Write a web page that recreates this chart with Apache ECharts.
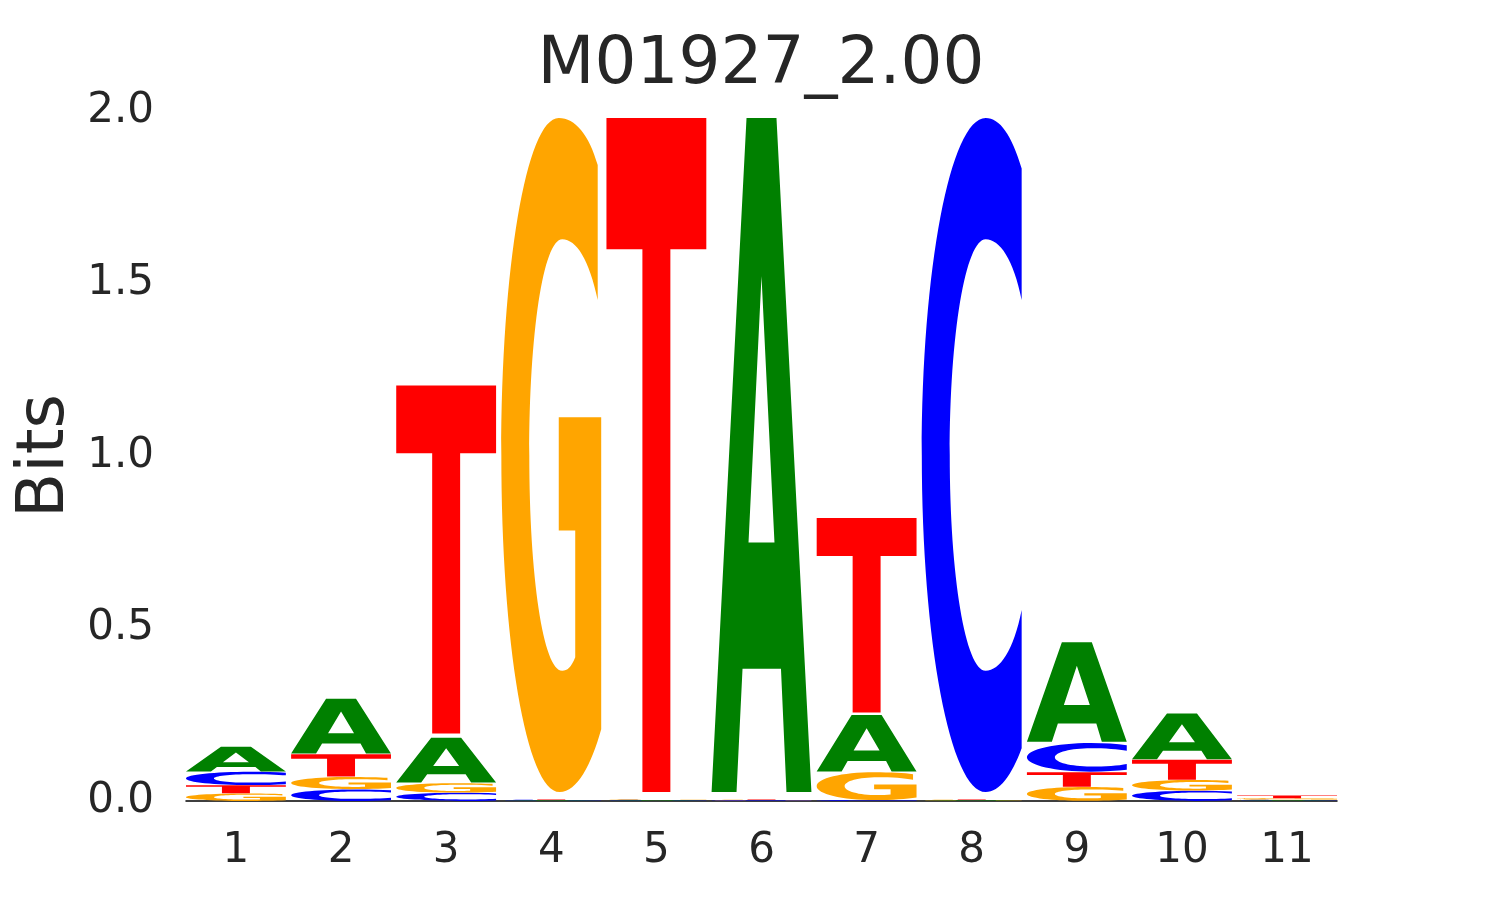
<!DOCTYPE html>
<html>
<head>
<meta charset="utf-8">
<script src="https://cdn.jsdelivr.net/npm/echarts@6/dist/echarts.min.js"></script>
<style>
html,body{margin:0;padding:0;background:#ffffff;}
#chart{width:1485px;height:900px;}
</style>
</head>
<body>
<div id="chart"></div>
<script>
// ---------- data ----------
const chartTitle = 'M01927_2.00';
const yAxisName = 'Bits';
const positions = [1, 2, 3, 4, 5, 6, 7, 8, 9, 10, 11];
const letters = ['A', 'C', 'G', 'T'];
const valuesA = [0.073, 0.162, 0.133, 0.002, 0.002, 1.994, 0.167, 0.002, 0.294, 0.135, 0.002];
const valuesC = [0.039, 0.034, 0.024, 0.002, 0.002, 0.002, 0.002, 1.994, 0.085, 0.030, 0.002];
const valuesG = [0.022, 0.036, 0.028, 1.994, 0.002, 0.002, 0.082, 0.002, 0.041, 0.031, 0.004];
const valuesT = [0.024, 0.066, 1.030, 0.002, 1.994, 0.002, 0.575, 0.002, 0.043, 0.059, 0.008];
const yTicks = [0, 0.5, 1.0, 1.5, 2.0];

// ---------- styles ----------
const letterColors = { A: '#008000', C: '#0000ff', G: '#ffa500', T: '#ff0000' };
const FONT = 'DejaVu Sans';
const TEXT_COLOR = '#262626';
const LETTER_WIDTH = 0.95;
const VPAD = 0.02;

// glyph outlines in a 100x100 box (stretched to each letter's cell)
const glyphPaths = {
  A: 'M0,100 L35,0 L65,0 L100,100 L75,100 L69.5,81.7 L31,81.7 L25,100 Z M37,63 L63,63 L50,23.5 Z',
  T: 'M0,0 L100,0 L100,19.5 L64,19.5 L64,100 L36,100 L36,19.5 L0,19.5 Z',
  C: 'M100,7.5 C90,2.5 78,0 64,0 C28.7,0 0,22.4 0,50 C0,77.6 28.7,100 64,100 C78,100 90,97.5 100,93.5 ' +
     'L100,73 C92,79 78,82 64,82 C44,82 28,68 28,50 C28,32 44,18 64,18 C78,18 92,21 100,27 Z',
  G: 'M96.5,7 C88,2.5 74,0 57.5,0 C25,0 0,22.4 0,50 C0,77.6 25,100 58.5,100 C76,100 90,96 100,90.7 ' +
     'L100,44.4 L57.5,44.4 L57.5,61.2 L74,61.2 L74,80 C70,81.5 66,82 61,82 C42,82 28,68 28,50 ' +
     'C28,32 42,18 61,18 C75,18 88,21 96.5,27 Z'
};

// ---------- build stacked letter cells ----------
const valueTable = { A: valuesA, C: valuesC, G: valuesG, T: valuesT };
const cells = [];
positions.forEach(function (pos, i) {
  const col = letters.map(function (L, li) { return { li: li, v: valueTable[L][i] }; });
  col.sort(function (a, b) { return a.v - b.v || a.li - b.li; });
  let acc = 0;
  col.forEach(function (c) {
    cells.push([pos, acc, acc + c.v, c.li]);
    acc += c.v;
  });
});

const chart = echarts.init(document.getElementById('chart'), null, { renderer: 'canvas' });

chart.setOption({
  backgroundColor: '#ffffff',
  animation: false,
  title: {
    text: chartTitle,
    left: 761,
    textAlign: 'center',
    top: 33,
    padding: 0,
    textStyle: { fontFamily: FONT, fontSize: 66, fontWeight: 'normal', color: TEXT_COLOR }
  },
  grid: { left: 186, right: 148, top: 111, bottom: 99, containLabel: false, outerBoundsMode: 'none' },
  xAxis: {
    type: 'value',
    min: 0.5 + (1 - LETTER_WIDTH) / 2,
    max: 11.5 - (1 - LETTER_WIDTH) / 2,
    axisLine: { show: true, onZero: false, lineStyle: { color: '#000000', width: 1.5 } },
    axisTick: { show: false },
    splitLine: { show: false },
    axisLabel: {
      customValues: positions,
      fontFamily: FONT, fontSize: 42, color: TEXT_COLOR, margin: 29
    }
  },
  yAxis: {
    type: 'value',
    min: 0,
    max: 2,
    interval: 0.5,
    name: yAxisName,
    nameLocation: 'middle',
    nameRotate: 90,
    nameGap: 107,
    nameMoveOverlap: false,
    nameTextStyle: { fontFamily: FONT, fontSize: 66, color: TEXT_COLOR },
    axisLine: { show: false },
    axisTick: { show: false },
    splitLine: { show: false },
    axisLabel: {
      customValues: yTicks,
      formatter: function (v) { return Number(v).toFixed(1); },
      fontFamily: FONT, fontSize: 42, color: TEXT_COLOR, margin: 32
    }
  },
  series: [{
    type: 'custom',
    data: cells,
    encode: { x: 0, y: [1, 2] },
    renderItem: function (params, api) {
      const x = api.value(0), y0 = api.value(1), y1 = api.value(2), li = api.value(3);
      const L = letters[li];
      const pTop = api.coord([x - LETTER_WIDTH / 2, y1]);
      const pBot = api.coord([x + LETTER_WIDTH / 2, y0]);
      const h = pBot[1] - pTop[1];
      const pad = h * VPAD / 2;
      return {
        type: 'path',
        shape: {
          pathData: glyphPaths[L],
          x: pTop[0],
          y: pTop[1] + pad,
          width: pBot[0] - pTop[0],
          height: Math.max(h - 2 * pad, 0.01),
          layout: 'cover'
        },
        style: { fill: letterColors[L] }
      };
    }
  }]
});
</script>
</body>
</html>
